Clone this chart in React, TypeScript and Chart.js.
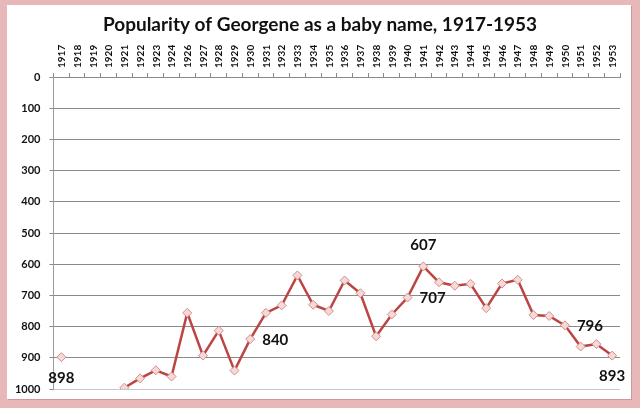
import React, { useEffect, useRef } from 'react';
import { Chart, registerables } from 'chart.js';
Chart.register(...registerables);

const TITLE = 'Popularity of Georgene as a baby name, 1917-1953';

const years = [
  '1917', '1918', '1919', '1920', '1921', '1922', '1923', '1924', '1926', '1927',
  '1928', '1929', '1930', '1931', '1932', '1933', '1934', '1935', '1936', '1937',
  '1938', '1939', '1940', '1941', '1942', '1943', '1944', '1945', '1946', '1947',
  '1948', '1949', '1950', '1951', '1952', '1953',
];

const ranks: (number | null)[] = [
  898, null, null, null, 996, 966, 940, 960, 756, 893,
  813, 941, 840, 756, 732, 636, 730, 750, 652, 693,
  831, 761, 707, 607, 658, 669, 663, 741, 662, 650,
  763, 766, 796, 864, 856, 893,
];

// which points get a value label, and where it sits relative to the point
const labelYears = ['1917', '1930', '1941', '1940', '1950', '1953'];
const labelPlaces = ['below', 'right', 'above', 'right', 'right', 'below'];

const FONT = 'Lato, "Open Sans", "DejaVu Sans", sans-serif';

export default function App() {
  const ref = useRef<HTMLCanvasElement | null>(null);

  useEffect(() => {
    if (!ref.current) return;

    const decor = {
      id: 'decor',
      afterDraw(chart: any) {
        const ctx = chart.ctx;
        const xs = chart.scales.x;
        ctx.save();
        // rotated category labels on the top axis
        ctx.fillStyle = '#111';
        ctx.font = `bold 10px ${FONT}`;
        ctx.textAlign = 'left';
        ctx.textBaseline = 'middle';
        years.forEach((y, i) => {
          const px = xs.getPixelForTick(i);
          ctx.save();
          ctx.translate(px + 0.5, xs.bottom - 9);
          ctx.rotate(-Math.PI / 2);
          ctx.fillText(y, 0, 0);
          ctx.restore();
        });
        // value labels
        const meta = chart.getDatasetMeta(0);
        ctx.font = `bold 15px ${FONT}`;
        labelYears.forEach((y, i) => {
          const idx = years.indexOf(y);
          const pt = meta.data[idx];
          const v = ranks[idx];
          if (!pt || v == null) return;
          const place = labelPlaces[i];
          let x = pt.x, yy = pt.y;
          if (place === 'below') { ctx.textAlign = 'center'; yy += 21; }
          else if (place === 'above') { ctx.textAlign = 'center'; yy -= 21; }
          else { ctx.textAlign = 'left'; x += 12; yy += 1; }
          ctx.textBaseline = 'middle';
          ctx.fillText(String(v), x, yy);
        });
        // title
        ctx.font = `bold 19px ${FONT}`;
        ctx.textAlign = 'center';
        ctx.textBaseline = 'alphabetic';
        ctx.fillText(TITLE, 320, 31);
        ctx.restore();
      },
    };

    const chart = new Chart(ref.current, {
      type: 'line',
      data: {
        labels: years,
        datasets: [
          {
            data: ranks,
            borderColor: '#bc4542',
            borderWidth: 2.5,
            tension: 0,
            spanGaps: false,
            pointStyle: 'rectRot',
            pointRadius: 4.5,
            pointBorderWidth: 1,
            pointBackgroundColor: '#f4d9d8',
            pointBorderColor: '#d68c8a',
          },
        ],
      },
      options: {
        animation: false,
        responsive: false,
        layout: { padding: { left: 0, top: 0, right: 20, bottom: 19 } },
        plugins: {
          legend: { display: false },
          title: { display: false },
          tooltip: { enabled: false },
        },
        scales: {
          x: {
            type: 'category',
            position: 'top',
            offset: true,
            afterFit: (s: any) => { s.height = 77; },
            grid: {
              drawOnChartArea: false,
              drawTicks: true,
              tickLength: 4,
              offset: true,
              color: '#8a8a8a',
            },
            border: { display: true, color: '#8a8a8a' },
            ticks: { display: false, autoSkip: false },
          },
          y: {
            reverse: true,
            min: 0,
            max: 1000,
            afterFit: (s: any) => { s.width = 53.5; },
            grid: {
              color: (c: any) => (c.tick && c.tick.value === 1000 ? '#c8c8c8' : '#8a8a8a'),
              drawTicks: true,
              tickLength: 4,
              tickColor: '#8a8a8a',
            },
            border: { display: true, color: '#9a9a9a' },
            ticks: {
              stepSize: 100,
              padding: 9,
              color: '#111',
              font: { family: FONT, size: 11, weight: 'bold' },
              callback: (v: any) => String(v),
            },
          },
        },
      },
      plugins: [decor],
    } as any);

    return () => chart.destroy();
  }, []);

  return (
    <div style={{ position: 'fixed', left: 0, top: 0, width: 640, height: 408, background: '#e7b8b7' }}>
      <div
        style={{
          position: 'absolute',
          left: 7,
          top: 5,
          width: 624,
          height: 394,
          background: '#ffffff',
          boxShadow: '1px 1px 0 #c99a99',
        }}
      />
      <canvas
        ref={ref}
        width={640}
        height={408}
        style={{ position: 'absolute', left: 0, top: 0, width: 640, height: 408 }}
      />
    </div>
  );
}
